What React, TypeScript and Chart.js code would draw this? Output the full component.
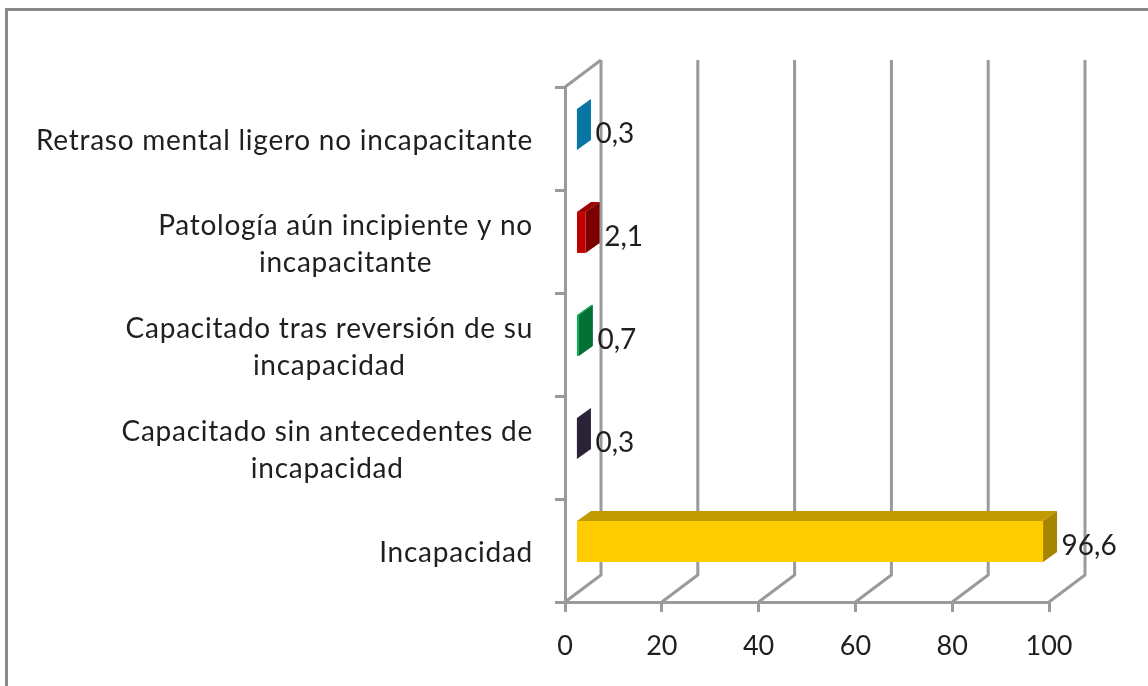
import React, { useEffect, useRef } from "react";
import { Chart, registerables } from "chart.js";

Chart.register(...registerables);

const categories: (string | string[])[] = [
  "Retraso mental ligero no incapacitante",
  ["Patología aún incipiente y no", "incapacitante"],
  ["Capacitado tras reversión de su", "incapacidad"],
  ["Capacitado sin antecedentes de", "incapacidad"],
  "Incapacidad",
];
const values = [0.3, 2.1, 0.7, 0.3, 96.6];
const valueLabels = ["0,3", "2,1", "0,7", "0,3", "96,6"];
const frontColors = ["#10A0D8", "#C00000", "#00B050", "#3A2E52", "#FFCC00"];
const topColors = ["#10A0D8", "#A00000", "#00A84F", "#3A2E52", "#C09A00"];
const sideColors = ["#0776A4", "#7A0000", "#007035", "#2B2238", "#A68500"];

const FONT = "Lato, 'Noto Sans', sans-serif";
const TEXT = "#1f1f1f";
const LINE = "#9a9a9a";
const WALL_DX = 36;
const WALL_DY = -27;
const BAR_DX = 10.5;
const BAR_DY = -9;
const DEPTH_DX = 14;
const DEPTH_DY = -10;
const LABEL_SPACING = "0.75px";

const poly = (ctx: CanvasRenderingContext2D, pts: number[][], fill: string) => {
  ctx.beginPath();
  pts.forEach(([x, y], i) => (i ? ctx.lineTo(x, y) : ctx.moveTo(x, y)));
  ctx.closePath();
  ctx.fillStyle = fill;
  ctx.fill();
};

const threeD = {
  id: "threeD",
  beforeDraw(chart: any) {
    const ctx = chart.ctx;
    ctx.save();
    ctx.fillStyle = "#ffffff";
    ctx.fillRect(0, 0, chart.width, chart.height);
    ctx.strokeStyle = "#8a8a8a";
    ctx.lineWidth = 3;
    ctx.beginPath();
    ctx.moveTo(6.5, chart.height);
    ctx.lineTo(6.5, 9.5);
    ctx.lineTo(chart.width, 9.5);
    ctx.stroke();
    ctx.restore();

    // Category labels: slightly tracked, with wrapped lines centred on each other.
    const ys = chart.scales.y;
    if (!ys.__patched) {
      ys.__patched = true;
      const orig = ys.drawLabels;
      ys.drawLabels = function (area: any) {
        ctx.save();
        (ctx as any).letterSpacing = LABEL_SPACING;
        const items = this.getLabelItems(area);
        if (!this.__aligned) {
          this.__aligned = true;
          items.forEach((item: any) => {
            item.options.translation[1] += 2.5;
            if (Array.isArray(item.label)) {
              ctx.font = item.font.string;
              const w = Math.max(...item.label.map((l: string) => ctx.measureText(l).width));
              item.options.textAlign = "center";
              item.options.translation[0] -= w / 2;
            }
          });
        }
        orig.call(this, area);
        ctx.restore();
      };
    }
  },
  beforeDatasetsDraw(chart: any) {
    const ctx = chart.ctx;
    const { left, top, bottom } = chart.chartArea;
    const xs = chart.scales.x;
    ctx.save();
    ctx.strokeStyle = LINE;
    ctx.lineWidth = 3;
    xs.ticks.forEach((t: any) => {
      const x = xs.getPixelForValue(t.value);
      ctx.beginPath();
      ctx.moveTo(x, bottom);
      ctx.lineTo(x + WALL_DX, bottom + WALL_DY);
      ctx.lineTo(x + WALL_DX, top + WALL_DY);
      ctx.stroke();
    });
    ctx.beginPath();
    ctx.moveTo(left, top);
    ctx.lineTo(left + WALL_DX, top + WALL_DY);
    ctx.stroke();
    chart.getDatasetMeta(0).data.forEach((bar: any, i: number) => {
      const t = bar.y - bar.height / 2 + BAR_DY;
      const b = bar.y + bar.height / 2 + BAR_DY;
      const x0 = bar.base + BAR_DX;
      const x1 = bar.x + BAR_DX;
      poly(ctx, [[x0, t], [x1, t], [x1 + DEPTH_DX, t + DEPTH_DY], [x0 + DEPTH_DX, t + DEPTH_DY]], topColors[i]);
      poly(ctx, [[x1, t], [x1 + DEPTH_DX, t + DEPTH_DY], [x1 + DEPTH_DX, b + DEPTH_DY], [x1, b]], sideColors[i]);
    });
    ctx.restore();
    ctx.save();
    ctx.translate(BAR_DX, BAR_DY);
  },
  afterDatasetsDraw(chart: any) {
    const ctx = chart.ctx;
    ctx.restore();
    ctx.save();
    ctx.fillStyle = TEXT;
    ctx.font = `28px ${FONT}`;
    ctx.textAlign = "left";
    ctx.textBaseline = "middle";
    chart.getDatasetMeta(0).data.forEach((bar: any, i: number) => {
      ctx.fillText(valueLabels[i], bar.x + 29, bar.y - 5);
    });
    ctx.restore();
  },
};

export default function App() {
  const ref = useRef<HTMLCanvasElement>(null);
  useEffect(() => {
    document.body.style.margin = "0";
    const chart = new Chart(ref.current!, {
      type: "bar",
      data: {
        labels: categories as any,
        datasets: [
          {
            data: values,
            backgroundColor: frontColors,
            borderWidth: 0,
            categoryPercentage: 1,
            barPercentage: 0.397,
            clip: false,
          } as any,
        ],
      },
      options: {
        indexAxis: "y",
        responsive: false,
        animation: false,
        layout: { padding: { top: 87, right: 99, left: 0, bottom: 0 } },
        plugins: { legend: { display: false }, tooltip: { enabled: false } },
        scales: {
          x: {
            min: 0,
            max: 100,
            afterFit: (s: any) => {
              s.height = 84;
            },
            ticks: {
              stepSize: 20,
              maxRotation: 0,
              padding: 18,
              color: TEXT,
              font: { family: FONT, size: 27 },
            },
            grid: { drawOnChartArea: false, drawTicks: true, tickLength: 10, color: LINE, lineWidth: 3 },
            border: { display: true, color: LINE, width: 3 },
          },
          y: {
            afterFit: (s: any) => {
              s.width = 565;
            },
            ticks: {
              padding: 22,
              color: TEXT,
              autoSkip: false,
              font: { family: FONT, size: 28, lineHeight: 1.32 },
            },
            grid: { drawOnChartArea: false, drawTicks: true, tickLength: 10, color: LINE, lineWidth: 3 },
            border: { display: true, color: LINE, width: 3 },
          },
        },
      },
      plugins: [threeD],
    } as any);
    return () => chart.destroy();
  }, []);
  return <canvas ref={ref} width={1148} height={686} style={{ display: "block" }} />;
}
